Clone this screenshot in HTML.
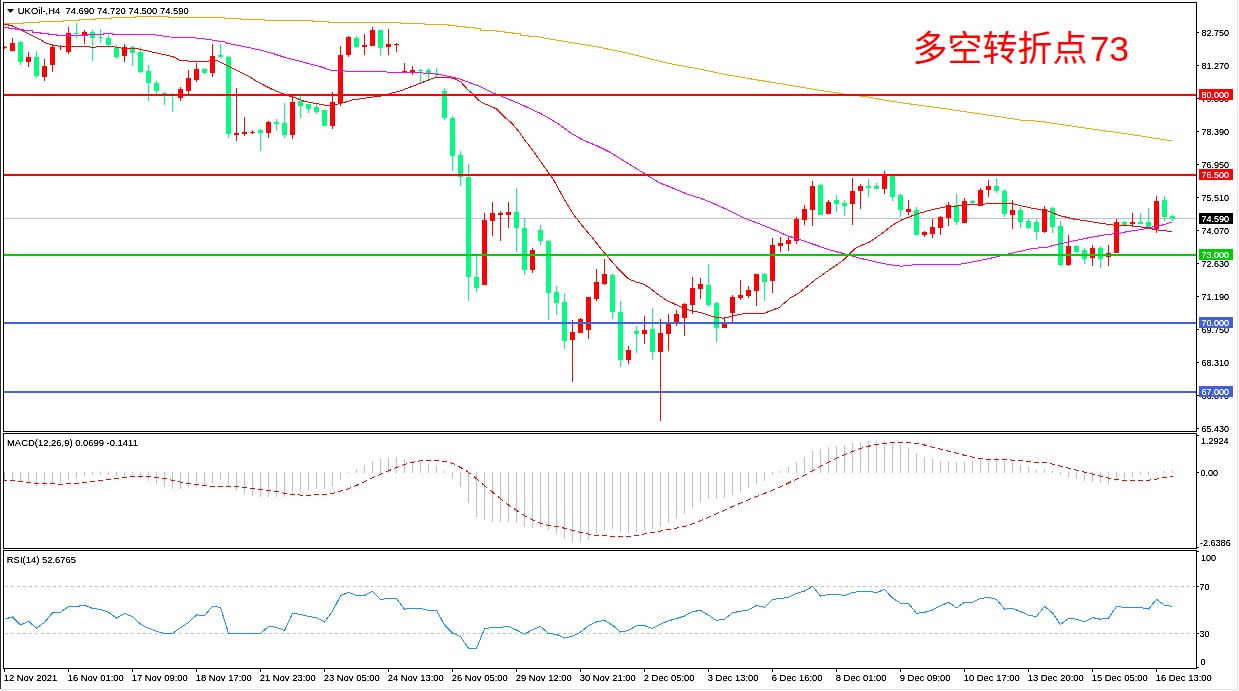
<!DOCTYPE html><html><head><meta charset="utf-8"><title>UKOil H4</title><style>html,body{margin:0;padding:0;background:#fff;overflow:hidden;}svg{display:block;}</style></head><body><svg width="1239" height="691" viewBox="0 0 1239 691" font-family="'Liberation Sans', Arial, sans-serif">
<rect x="0" y="0" width="1239" height="691" fill="#fff"/>
<rect x="0" y="0" width="1" height="689" fill="#2b2b2b"/>
<rect x="1" y="689" width="1237" height="1" fill="#e3e3e3"/>
<rect x="1237" y="0" width="1" height="690" fill="#e3e3e3"/>
<defs><clipPath id="cm"><rect x="4" y="3" width="1192" height="428"/></clipPath><clipPath id="cd"><rect x="4" y="434" width="1192" height="114"/></clipPath><clipPath id="cr"><rect x="4" y="551" width="1192" height="117"/></clipPath><filter id="tc" x="-5%" y="-30%" width="110%" height="160%" color-interpolation-filters="sRGB"><feComponentTransfer><feFuncA type="linear" slope="1.8" intercept="-0.2"/></feComponentTransfer></filter></defs>
<g clip-path="url(#cm)" shape-rendering="crispEdges">
<rect x="4" y="218" width="1192" height="1" fill="#c0c0c0"/>
<rect x="4" y="46" width="1" height="3" fill="#ff0000"/>
<rect x="2" y="47" width="5" height="1" fill="#ff0000"/>
<rect x="12" y="38" width="1" height="13" fill="#ff0000"/>
<rect x="10" y="43" width="5" height="8" fill="#ff0000"/>
<rect x="20" y="41" width="1" height="24" fill="#00ff7f"/>
<rect x="18" y="42" width="5" height="20" fill="#00ff7f"/>
<rect x="28" y="52" width="1" height="15" fill="#ff0000"/>
<rect x="26" y="57" width="5" height="5" fill="#ff0000"/>
<rect x="36" y="51" width="1" height="27" fill="#00ff7f"/>
<rect x="34" y="57" width="5" height="19" fill="#00ff7f"/>
<rect x="44" y="59" width="1" height="22" fill="#ff0000"/>
<rect x="42" y="66" width="5" height="11" fill="#ff0000"/>
<rect x="52" y="46" width="1" height="26" fill="#ff0000"/>
<rect x="50" y="47" width="5" height="18" fill="#ff0000"/>
<rect x="60" y="45" width="1" height="5" fill="#ff0000"/>
<rect x="58" y="46" width="5" height="1" fill="#ff0000"/>
<rect x="68" y="27" width="1" height="27" fill="#ff0000"/>
<rect x="66" y="33" width="5" height="19" fill="#ff0000"/>
<rect x="76" y="23" width="1" height="15" fill="#00ff7f"/>
<rect x="74" y="33" width="5" height="1" fill="#00ff7f"/>
<rect x="84" y="30" width="1" height="14" fill="#ff0000"/>
<rect x="82" y="32" width="5" height="3" fill="#ff0000"/>
<rect x="92" y="30" width="1" height="31" fill="#00ff7f"/>
<rect x="90" y="32" width="5" height="6" fill="#00ff7f"/>
<rect x="100" y="29" width="1" height="14" fill="#00ff7f"/>
<rect x="98" y="37" width="5" height="1" fill="#00ff7f"/>
<rect x="108" y="35" width="1" height="11" fill="#00ff7f"/>
<rect x="106" y="38" width="5" height="7" fill="#00ff7f"/>
<rect x="116" y="45" width="1" height="14" fill="#00ff7f"/>
<rect x="114" y="48" width="5" height="9" fill="#00ff7f"/>
<rect x="124" y="44" width="1" height="18" fill="#ff0000"/>
<rect x="122" y="47" width="5" height="9" fill="#ff0000"/>
<rect x="132" y="46" width="1" height="20" fill="#00ff7f"/>
<rect x="130" y="47" width="5" height="6" fill="#00ff7f"/>
<rect x="140" y="47" width="1" height="26" fill="#00ff7f"/>
<rect x="138" y="52" width="5" height="20" fill="#00ff7f"/>
<rect x="148" y="65" width="1" height="36" fill="#00ff7f"/>
<rect x="146" y="71" width="5" height="12" fill="#00ff7f"/>
<rect x="156" y="81" width="1" height="13" fill="#00ff7f"/>
<rect x="154" y="83" width="5" height="8" fill="#00ff7f"/>
<rect x="164" y="92" width="1" height="13" fill="#00ff7f"/>
<rect x="162" y="93" width="5" height="3" fill="#00ff7f"/>
<rect x="172" y="93" width="1" height="19" fill="#00ff7f"/>
<rect x="170" y="95" width="5" height="1" fill="#00ff7f"/>
<rect x="180" y="87" width="1" height="14" fill="#ff0000"/>
<rect x="178" y="89" width="5" height="9" fill="#ff0000"/>
<rect x="188" y="70" width="1" height="24" fill="#ff0000"/>
<rect x="186" y="78" width="5" height="13" fill="#ff0000"/>
<rect x="196" y="63" width="1" height="19" fill="#ff0000"/>
<rect x="194" y="69" width="5" height="11" fill="#ff0000"/>
<rect x="204" y="68" width="1" height="6" fill="#00ff7f"/>
<rect x="202" y="69" width="5" height="4" fill="#00ff7f"/>
<rect x="212" y="44" width="1" height="33" fill="#ff0000"/>
<rect x="210" y="56" width="5" height="17" fill="#ff0000"/>
<rect x="220" y="44" width="1" height="14" fill="#00ff7f"/>
<rect x="218" y="55" width="5" height="2" fill="#00ff7f"/>
<rect x="228" y="56" width="1" height="82" fill="#00ff7f"/>
<rect x="226" y="57" width="5" height="77" fill="#00ff7f"/>
<rect x="236" y="88" width="1" height="53" fill="#ff0000"/>
<rect x="234" y="133" width="5" height="2" fill="#ff0000"/>
<rect x="244" y="117" width="1" height="19" fill="#ff0000"/>
<rect x="242" y="132" width="5" height="2" fill="#ff0000"/>
<rect x="252" y="130" width="1" height="4" fill="#ff0000"/>
<rect x="250" y="132" width="5" height="1" fill="#ff0000"/>
<rect x="260" y="129" width="1" height="22" fill="#00ff7f"/>
<rect x="258" y="130" width="5" height="3" fill="#00ff7f"/>
<rect x="268" y="121" width="1" height="17" fill="#ff0000"/>
<rect x="266" y="122" width="5" height="11" fill="#ff0000"/>
<rect x="276" y="119" width="1" height="12" fill="#00ff7f"/>
<rect x="274" y="122" width="5" height="2" fill="#00ff7f"/>
<rect x="284" y="103" width="1" height="35" fill="#00ff7f"/>
<rect x="282" y="123" width="5" height="12" fill="#00ff7f"/>
<rect x="292" y="95" width="1" height="44" fill="#ff0000"/>
<rect x="290" y="102" width="5" height="33" fill="#ff0000"/>
<rect x="300" y="96" width="1" height="22" fill="#00ff7f"/>
<rect x="298" y="101" width="5" height="5" fill="#00ff7f"/>
<rect x="308" y="104" width="1" height="9" fill="#00ff7f"/>
<rect x="306" y="104" width="5" height="5" fill="#00ff7f"/>
<rect x="316" y="104" width="1" height="10" fill="#00ff7f"/>
<rect x="314" y="107" width="5" height="5" fill="#00ff7f"/>
<rect x="324" y="110" width="1" height="16" fill="#00ff7f"/>
<rect x="322" y="110" width="5" height="16" fill="#00ff7f"/>
<rect x="332" y="92" width="1" height="37" fill="#ff0000"/>
<rect x="330" y="102" width="5" height="24" fill="#ff0000"/>
<rect x="340" y="46" width="1" height="60" fill="#ff0000"/>
<rect x="338" y="55" width="5" height="48" fill="#ff0000"/>
<rect x="348" y="36" width="1" height="21" fill="#ff0000"/>
<rect x="346" y="37" width="5" height="18" fill="#ff0000"/>
<rect x="356" y="36" width="1" height="12" fill="#00ff7f"/>
<rect x="354" y="38" width="5" height="9" fill="#00ff7f"/>
<rect x="364" y="34" width="1" height="21" fill="#ff0000"/>
<rect x="362" y="45" width="5" height="2" fill="#ff0000"/>
<rect x="372" y="27" width="1" height="19" fill="#ff0000"/>
<rect x="370" y="30" width="5" height="16" fill="#ff0000"/>
<rect x="380" y="30" width="1" height="26" fill="#00ff7f"/>
<rect x="378" y="30" width="5" height="18" fill="#00ff7f"/>
<rect x="388" y="29" width="1" height="26" fill="#ff0000"/>
<rect x="386" y="44" width="5" height="3" fill="#ff0000"/>
<rect x="396" y="43" width="1" height="9" fill="#ff0000"/>
<rect x="394" y="44" width="5" height="1" fill="#ff0000"/>
<rect x="404" y="63" width="1" height="10" fill="#ff0000"/>
<rect x="402" y="71" width="5" height="1" fill="#ff0000"/>
<rect x="412" y="66" width="1" height="9" fill="#ff0000"/>
<rect x="410" y="70" width="5" height="2" fill="#ff0000"/>
<rect x="420" y="69" width="1" height="14" fill="#00ff7f"/>
<rect x="418" y="70" width="5" height="1" fill="#00ff7f"/>
<rect x="428" y="68" width="1" height="13" fill="#00ff7f"/>
<rect x="426" y="70" width="5" height="3" fill="#00ff7f"/>
<rect x="436" y="68" width="1" height="9" fill="#00ff7f"/>
<rect x="434" y="73" width="5" height="1" fill="#00ff7f"/>
<rect x="444" y="88" width="1" height="32" fill="#00ff7f"/>
<rect x="442" y="91" width="5" height="27" fill="#00ff7f"/>
<rect x="452" y="116" width="1" height="55" fill="#00ff7f"/>
<rect x="450" y="118" width="5" height="38" fill="#00ff7f"/>
<rect x="460" y="151" width="1" height="35" fill="#00ff7f"/>
<rect x="458" y="155" width="5" height="22" fill="#00ff7f"/>
<rect x="468" y="164" width="1" height="137" fill="#00ff7f"/>
<rect x="466" y="177" width="5" height="100" fill="#00ff7f"/>
<rect x="476" y="256" width="1" height="36" fill="#00ff7f"/>
<rect x="474" y="277" width="5" height="11" fill="#00ff7f"/>
<rect x="484" y="213" width="1" height="72" fill="#ff0000"/>
<rect x="482" y="220" width="5" height="65" fill="#ff0000"/>
<rect x="492" y="202" width="1" height="34" fill="#ff0000"/>
<rect x="490" y="213" width="5" height="8" fill="#ff0000"/>
<rect x="500" y="211" width="1" height="30" fill="#ff0000"/>
<rect x="498" y="213" width="5" height="2" fill="#ff0000"/>
<rect x="508" y="202" width="1" height="26" fill="#ff0000"/>
<rect x="506" y="212" width="5" height="3" fill="#ff0000"/>
<rect x="516" y="188" width="1" height="64" fill="#00ff7f"/>
<rect x="514" y="212" width="5" height="16" fill="#00ff7f"/>
<rect x="524" y="218" width="1" height="57" fill="#00ff7f"/>
<rect x="522" y="228" width="5" height="42" fill="#00ff7f"/>
<rect x="532" y="248" width="1" height="25" fill="#ff0000"/>
<rect x="530" y="250" width="5" height="20" fill="#ff0000"/>
<rect x="540" y="225" width="1" height="20" fill="#00ff7f"/>
<rect x="538" y="230" width="5" height="11" fill="#00ff7f"/>
<rect x="548" y="240" width="1" height="80" fill="#00ff7f"/>
<rect x="546" y="241" width="5" height="52" fill="#00ff7f"/>
<rect x="556" y="286" width="1" height="29" fill="#00ff7f"/>
<rect x="554" y="292" width="5" height="11" fill="#00ff7f"/>
<rect x="564" y="293" width="1" height="56" fill="#00ff7f"/>
<rect x="562" y="302" width="5" height="39" fill="#00ff7f"/>
<rect x="572" y="320" width="1" height="62" fill="#ff0000"/>
<rect x="570" y="332" width="5" height="8" fill="#ff0000"/>
<rect x="580" y="318" width="1" height="15" fill="#ff0000"/>
<rect x="578" y="319" width="5" height="14" fill="#ff0000"/>
<rect x="588" y="297" width="1" height="42" fill="#ff0000"/>
<rect x="586" y="297" width="5" height="33" fill="#ff0000"/>
<rect x="596" y="269" width="1" height="32" fill="#ff0000"/>
<rect x="594" y="282" width="5" height="17" fill="#ff0000"/>
<rect x="604" y="259" width="1" height="26" fill="#ff0000"/>
<rect x="602" y="274" width="5" height="10" fill="#ff0000"/>
<rect x="612" y="274" width="1" height="45" fill="#00ff7f"/>
<rect x="610" y="275" width="5" height="37" fill="#00ff7f"/>
<rect x="620" y="301" width="1" height="66" fill="#00ff7f"/>
<rect x="618" y="312" width="5" height="48" fill="#00ff7f"/>
<rect x="628" y="346" width="1" height="18" fill="#ff0000"/>
<rect x="626" y="350" width="5" height="10" fill="#ff0000"/>
<rect x="636" y="326" width="1" height="27" fill="#00ff7f"/>
<rect x="634" y="331" width="5" height="3" fill="#00ff7f"/>
<rect x="644" y="316" width="1" height="28" fill="#ff0000"/>
<rect x="642" y="330" width="5" height="4" fill="#ff0000"/>
<rect x="652" y="308" width="1" height="52" fill="#00ff7f"/>
<rect x="650" y="329" width="5" height="23" fill="#00ff7f"/>
<rect x="660" y="319" width="1" height="102" fill="#ff0000"/>
<rect x="658" y="333" width="5" height="19" fill="#ff0000"/>
<rect x="668" y="314" width="1" height="37" fill="#ff0000"/>
<rect x="666" y="324" width="5" height="10" fill="#ff0000"/>
<rect x="676" y="310" width="1" height="16" fill="#ff0000"/>
<rect x="674" y="314" width="5" height="9" fill="#ff0000"/>
<rect x="684" y="303" width="1" height="33" fill="#ff0000"/>
<rect x="682" y="304" width="5" height="14" fill="#ff0000"/>
<rect x="692" y="277" width="1" height="37" fill="#ff0000"/>
<rect x="690" y="288" width="5" height="17" fill="#ff0000"/>
<rect x="700" y="278" width="1" height="21" fill="#ff0000"/>
<rect x="698" y="284" width="5" height="5" fill="#ff0000"/>
<rect x="708" y="264" width="1" height="43" fill="#00ff7f"/>
<rect x="706" y="285" width="5" height="20" fill="#00ff7f"/>
<rect x="716" y="302" width="1" height="40" fill="#00ff7f"/>
<rect x="714" y="303" width="5" height="25" fill="#00ff7f"/>
<rect x="724" y="318" width="1" height="10" fill="#ff0000"/>
<rect x="722" y="323" width="5" height="5" fill="#ff0000"/>
<rect x="732" y="295" width="1" height="27" fill="#ff0000"/>
<rect x="730" y="297" width="5" height="16" fill="#ff0000"/>
<rect x="740" y="280" width="1" height="20" fill="#ff0000"/>
<rect x="738" y="295" width="5" height="3" fill="#ff0000"/>
<rect x="748" y="286" width="1" height="12" fill="#ff0000"/>
<rect x="746" y="290" width="5" height="6" fill="#ff0000"/>
<rect x="756" y="274" width="1" height="32" fill="#ff0000"/>
<rect x="754" y="274" width="5" height="17" fill="#ff0000"/>
<rect x="764" y="273" width="1" height="28" fill="#00ff7f"/>
<rect x="762" y="274" width="5" height="8" fill="#00ff7f"/>
<rect x="772" y="238" width="1" height="55" fill="#ff0000"/>
<rect x="770" y="245" width="5" height="36" fill="#ff0000"/>
<rect x="780" y="237" width="1" height="15" fill="#ff0000"/>
<rect x="778" y="243" width="5" height="3" fill="#ff0000"/>
<rect x="788" y="237" width="1" height="14" fill="#ff0000"/>
<rect x="786" y="240" width="5" height="4" fill="#ff0000"/>
<rect x="796" y="217" width="1" height="27" fill="#ff0000"/>
<rect x="794" y="219" width="5" height="22" fill="#ff0000"/>
<rect x="804" y="205" width="1" height="20" fill="#ff0000"/>
<rect x="802" y="209" width="5" height="11" fill="#ff0000"/>
<rect x="812" y="181" width="1" height="45" fill="#ff0000"/>
<rect x="810" y="186" width="5" height="24" fill="#ff0000"/>
<rect x="820" y="184" width="1" height="31" fill="#00ff7f"/>
<rect x="818" y="185" width="5" height="30" fill="#00ff7f"/>
<rect x="828" y="200" width="1" height="14" fill="#ff0000"/>
<rect x="826" y="202" width="5" height="12" fill="#ff0000"/>
<rect x="836" y="195" width="1" height="17" fill="#00ff7f"/>
<rect x="834" y="200" width="5" height="4" fill="#00ff7f"/>
<rect x="844" y="200" width="1" height="16" fill="#00ff7f"/>
<rect x="842" y="203" width="5" height="3" fill="#00ff7f"/>
<rect x="852" y="178" width="1" height="47" fill="#ff0000"/>
<rect x="850" y="191" width="5" height="13" fill="#ff0000"/>
<rect x="860" y="184" width="1" height="25" fill="#ff0000"/>
<rect x="858" y="186" width="5" height="5" fill="#ff0000"/>
<rect x="868" y="179" width="1" height="18" fill="#00ff7f"/>
<rect x="866" y="186" width="5" height="2" fill="#00ff7f"/>
<rect x="876" y="183" width="1" height="6" fill="#00ff7f"/>
<rect x="874" y="186" width="5" height="3" fill="#00ff7f"/>
<rect x="884" y="171" width="1" height="23" fill="#ff0000"/>
<rect x="882" y="174" width="5" height="15" fill="#ff0000"/>
<rect x="892" y="176" width="1" height="25" fill="#00ff7f"/>
<rect x="890" y="176" width="5" height="21" fill="#00ff7f"/>
<rect x="900" y="194" width="1" height="23" fill="#00ff7f"/>
<rect x="898" y="195" width="5" height="15" fill="#00ff7f"/>
<rect x="908" y="200" width="1" height="15" fill="#ff0000"/>
<rect x="906" y="209" width="5" height="3" fill="#ff0000"/>
<rect x="916" y="207" width="1" height="28" fill="#00ff7f"/>
<rect x="914" y="210" width="5" height="25" fill="#00ff7f"/>
<rect x="924" y="231" width="1" height="6" fill="#ff0000"/>
<rect x="922" y="232" width="5" height="3" fill="#ff0000"/>
<rect x="932" y="219" width="1" height="19" fill="#ff0000"/>
<rect x="930" y="227" width="5" height="7" fill="#ff0000"/>
<rect x="940" y="216" width="1" height="19" fill="#ff0000"/>
<rect x="938" y="217" width="5" height="11" fill="#ff0000"/>
<rect x="948" y="202" width="1" height="24" fill="#ff0000"/>
<rect x="946" y="205" width="5" height="13" fill="#ff0000"/>
<rect x="956" y="194" width="1" height="31" fill="#00ff7f"/>
<rect x="954" y="205" width="5" height="17" fill="#00ff7f"/>
<rect x="964" y="198" width="1" height="25" fill="#ff0000"/>
<rect x="962" y="201" width="5" height="22" fill="#ff0000"/>
<rect x="972" y="200" width="1" height="4" fill="#00ff7f"/>
<rect x="970" y="201" width="5" height="2" fill="#00ff7f"/>
<rect x="980" y="188" width="1" height="18" fill="#ff0000"/>
<rect x="978" y="190" width="5" height="16" fill="#ff0000"/>
<rect x="988" y="180" width="1" height="17" fill="#ff0000"/>
<rect x="986" y="186" width="5" height="4" fill="#ff0000"/>
<rect x="996" y="178" width="1" height="15" fill="#00ff7f"/>
<rect x="994" y="186" width="5" height="5" fill="#00ff7f"/>
<rect x="1004" y="189" width="1" height="28" fill="#00ff7f"/>
<rect x="1002" y="191" width="5" height="23" fill="#00ff7f"/>
<rect x="1012" y="200" width="1" height="29" fill="#ff0000"/>
<rect x="1010" y="210" width="5" height="5" fill="#ff0000"/>
<rect x="1020" y="207" width="1" height="21" fill="#00ff7f"/>
<rect x="1018" y="210" width="5" height="12" fill="#00ff7f"/>
<rect x="1028" y="219" width="1" height="10" fill="#00ff7f"/>
<rect x="1026" y="221" width="5" height="7" fill="#00ff7f"/>
<rect x="1036" y="219" width="1" height="21" fill="#00ff7f"/>
<rect x="1034" y="222" width="5" height="10" fill="#00ff7f"/>
<rect x="1044" y="206" width="1" height="27" fill="#ff0000"/>
<rect x="1042" y="209" width="5" height="23" fill="#ff0000"/>
<rect x="1052" y="207" width="1" height="26" fill="#00ff7f"/>
<rect x="1050" y="208" width="5" height="19" fill="#00ff7f"/>
<rect x="1060" y="221" width="1" height="45" fill="#00ff7f"/>
<rect x="1058" y="226" width="5" height="39" fill="#00ff7f"/>
<rect x="1068" y="235" width="1" height="31" fill="#ff0000"/>
<rect x="1066" y="246" width="5" height="19" fill="#ff0000"/>
<rect x="1076" y="245" width="1" height="8" fill="#00ff7f"/>
<rect x="1074" y="246" width="5" height="6" fill="#00ff7f"/>
<rect x="1084" y="248" width="1" height="16" fill="#00ff7f"/>
<rect x="1082" y="250" width="5" height="9" fill="#00ff7f"/>
<rect x="1092" y="245" width="1" height="21" fill="#ff0000"/>
<rect x="1090" y="248" width="5" height="10" fill="#ff0000"/>
<rect x="1100" y="246" width="1" height="22" fill="#00ff7f"/>
<rect x="1098" y="248" width="5" height="11" fill="#00ff7f"/>
<rect x="1108" y="245" width="1" height="21" fill="#ff0000"/>
<rect x="1106" y="253" width="5" height="4" fill="#ff0000"/>
<rect x="1116" y="219" width="1" height="34" fill="#ff0000"/>
<rect x="1114" y="222" width="5" height="31" fill="#ff0000"/>
<rect x="1124" y="221" width="1" height="6" fill="#00ff7f"/>
<rect x="1122" y="222" width="5" height="3" fill="#00ff7f"/>
<rect x="1132" y="213" width="1" height="14" fill="#ff0000"/>
<rect x="1130" y="222" width="5" height="2" fill="#ff0000"/>
<rect x="1140" y="213" width="1" height="11" fill="#00ff7f"/>
<rect x="1138" y="222" width="5" height="2" fill="#00ff7f"/>
<rect x="1148" y="208" width="1" height="20" fill="#00ff7f"/>
<rect x="1146" y="222" width="5" height="6" fill="#00ff7f"/>
<rect x="1156" y="196" width="1" height="37" fill="#ff0000"/>
<rect x="1154" y="201" width="5" height="28" fill="#ff0000"/>
<rect x="1164" y="196" width="1" height="25" fill="#00ff7f"/>
<rect x="1162" y="200" width="5" height="17" fill="#00ff7f"/>
<rect x="1172" y="215" width="1" height="6" fill="#00ff7f"/>
<rect x="1170" y="216" width="5" height="3" fill="#00ff7f"/>
</g>
<g clip-path="url(#cm)" shape-rendering="crispEdges">
<polyline points="4,23.5 23,23.5 24,22.5 39,22.5 40,21.5 63,21.5 64,20.5 79,20.5 80,19.5 95,19.5 96,18.5 111,18.5 112,17.5 135,17.5 136,16.5 168,16.5 169,17.5 224,17.5 225,18.5 240,18.5 241,19.5 264,19.5 265,20.5 312,20.5 313,21.5 328,21.5 329,22.5 400,22.5 401,23.5 424,23.5 425,24.5 448,24.5 449,25.5 456,25.5 457,26.5 465,26.5 466,27.5 474,27.5 475,28.5 480,28.5 481,30.5 496,30.5 497,31.5 504,31.5 505,32.5 512,32.5 513,33.5 520,33.5 521,35.5 528,35.5 529,36.5 536,36.5 545.5,38.3 566,41.6 597,46.8 628,53.3 649,58.4 669.5,63.6 698,68.8 729,75.2 752,79.1 775.5,83 798.7,86.8 822,90.7 840,93.3 847,94.9 864,96.3 886.5,100.5 906,103.4 937,107.6 965.6,111.8 994,116 1022,120.3 1039,121.2 1061.6,124.5 1090,128.8 1121,133 1149,137.3 1172,141" fill="none" stroke="#ffa500" stroke-width="1"/>
<polyline points="4,27.5 8,27.5 9,28.5 15,28.5 16,29.5 23,29.5 24,30.5 32,30.5 33,32.5 40,32.5 41,33.5 48,33.5 49,34.5 56,34.5 57,35.5 87,35.5 88,34.5 103,34.5 104,33.5 112,33.5 113,34.5 139,34.5 152,34.5 160,35.6 170,37 192,37.5 200,38.5 209,39.5 217,40.9 224,41.5 227,43.3 237.5,45.3 251,48 263.4,50.9 273.6,53.7 283.8,57.1 297.3,60.5 309.8,63.9 320,66.5 331.5,70.4 353,71.4 392,72.1 410,72.5 430,73.3 440,74.7 450,76.5 460,79.1 479.5,86.3 492.6,92.8 504.3,97.4 521.2,104.5 540.8,113.6 557.7,123.4 572,133.8 585,141 598,146.2 610,152.2 625.6,161.9 642.6,172.4 659.5,182.8 672.5,188 688,194.5 701,198.4 716.8,205 731,211.4 744.2,218 752,221 770.8,228.4 787.8,235.9 797,238.7 814,244.5 832,250.6 843,253.4 859,257.9 877,262.3 894.6,265.5 901.7,266.2 912,265 926.6,264.4 958.5,264.4 971,262.3 988.7,258.7 1003,255.2 1019,251.6 1033,248.4 1040,247.8 1047,247.3 1054,245.3 1060.8,243.6 1069,241.9 1078,240.1 1087.5,238 1098,236.1 1108,234.4 1119,233.4 1126,231.9 1135,230.4 1145.6,228.8 1151,227.2 1158,226.1 1165,224.4 1172,222" fill="none" stroke="#ff00ff" stroke-width="1"/>
<polyline points="4,24 12,25.8 19.7,29.3 29,33.9 38,38.5 46.3,43.1 53.2,45.2 60,46.4 72,46.4 88,46.4 92,47.5 100,46.4 113,46.4 117,47.5 124,48.4 136,48.4 145,50.4 165,54.8 175,57.4 180,60.5 195,61.4 208,61.4 212,60 216,60 219,61.4 224,63.9 230.7,67.3 239.7,71.8 248.8,76.3 257.7,82 271.5,89 285,94.6 297.6,98.6 304,101.2 310,102.5 316,103.4 321,104.5 326,105.4 332,105.4 336.5,104.5 344,102.5 348,101.2 352,100 364.8,98.2 383.6,95.6 392,93 400,91 420,83.4 435.4,77.3 445.8,77.3 454.5,78.5 460.6,81.7 468.4,90.3 472.4,93.5 477,98.7 482,102.6 491.3,106.5 496.5,109 504.3,116.9 512,123.4 518.6,131.2 525,140.4 533,150.8 539.5,160 553.7,180 563.2,197.4 573.6,214.7 583.2,226.9 592,237.3 602,250 608,257 617,267.4 628,278.6 636,282 643,283.9 650,288.2 658.6,294.8 666,300 681,307 691.6,311 700,312.4 709,315.3 716,317.4 723.4,318.1 730.6,316.7 739.3,314.5 748,313 765,313 772,310.3 779,307.7 785,302.5 790,298.2 799,293 816,279.2 820,276.5 832,268 843,260.5 855.5,248.1 869.7,241.9 880.7,234.4 892.8,225 902.7,219.4 916.8,214 930.7,210 944.6,207 956,206.1 963,205.3 968,204.1 977,204.1 981,205.3 986.5,203.6 1013,203.6 1015.5,204.5 1019,205.3 1026,206.8 1033,208.4 1040,209.6 1049,211.2 1059.7,215.8 1065.5,217 1074.7,219.3 1084,220.5 1094.4,222.2 1104.8,223.9 1114,225.1 1120,225.4 1129,225.5 1136,226.4 1145.6,227.6 1152.5,229 1160.6,230.4 1172,231.5" fill="none" stroke="#ff0000" stroke-width="1"/>
</g>
<g shape-rendering="crispEdges">
<rect x="4" y="94" width="1192" height="2" fill="#ff0000"/>
<rect x="4" y="174" width="1192" height="2" fill="#ff0000"/>
<rect x="4" y="254" width="1192" height="2" fill="#00d000"/>
<rect x="4" y="322" width="1192" height="2" fill="#4060e0"/>
<rect x="4" y="391" width="1192" height="2" fill="#4060e0"/>
</g>
<path d="M7,9 L14,9 L10.5,13 Z" fill="#000"/>
<text transform="matrix(0.955 0 0 1 17.8 14)" font-size="9.9" fill="#000" filter="url(#tc)">UKOil-,H4&#160;&#160;74.690 74.720 74.500 74.590</text>
<text x="912.5" y="60.5" font-size="35" fill="#ff0000" font-family="'Liberation Sans', 'Noto Sans CJK SC', sans-serif">多空转折点<tspan x="1090">73</tspan></text>
<g shape-rendering="crispEdges" fill="none" stroke="#000" stroke-width="1">
<rect x="3.5" y="2.5" width="1193" height="429"/>
<rect x="3.5" y="433.5" width="1193" height="115"/>
<rect x="3.5" y="550.5" width="1193" height="118"/>
</g>
<g shape-rendering="crispEdges">
<rect x="1197" y="32" width="2" height="1" fill="#000"/>
<rect x="1197" y="65" width="2" height="1" fill="#000"/>
<rect x="1197" y="98" width="2" height="1" fill="#000"/>
<rect x="1197" y="131" width="2" height="1" fill="#000"/>
<rect x="1197" y="164" width="2" height="1" fill="#000"/>
<rect x="1197" y="197" width="2" height="1" fill="#000"/>
<rect x="1197" y="230" width="2" height="1" fill="#000"/>
<rect x="1197" y="263" width="2" height="1" fill="#000"/>
<rect x="1197" y="296" width="2" height="1" fill="#000"/>
<rect x="1197" y="329" width="2" height="1" fill="#000"/>
<rect x="1197" y="362" width="2" height="1" fill="#000"/>
<rect x="1197" y="395" width="2" height="1" fill="#000"/>
<rect x="1197" y="428" width="2" height="1" fill="#000"/>
</g>
<text transform="matrix(0.915 0 0 1 1201.5 36)" font-size="9.9" fill="#000" filter="url(#tc)">82.750</text>
<text transform="matrix(0.915 0 0 1 1201.5 69)" font-size="9.9" fill="#000" filter="url(#tc)">81.270</text>
<text transform="matrix(0.915 0 0 1 1201.5 102)" font-size="9.9" fill="#000" filter="url(#tc)">79.830</text>
<text transform="matrix(0.915 0 0 1 1201.5 135)" font-size="9.9" fill="#000" filter="url(#tc)">78.390</text>
<text transform="matrix(0.915 0 0 1 1201.5 168)" font-size="9.9" fill="#000" filter="url(#tc)">76.950</text>
<text transform="matrix(0.915 0 0 1 1201.5 201)" font-size="9.9" fill="#000" filter="url(#tc)">75.510</text>
<text transform="matrix(0.915 0 0 1 1201.5 234)" font-size="9.9" fill="#000" filter="url(#tc)">74.070</text>
<text transform="matrix(0.915 0 0 1 1201.5 267)" font-size="9.9" fill="#000" filter="url(#tc)">72.630</text>
<text transform="matrix(0.915 0 0 1 1201.5 300)" font-size="9.9" fill="#000" filter="url(#tc)">71.190</text>
<text transform="matrix(0.915 0 0 1 1201.5 333)" font-size="9.9" fill="#000" filter="url(#tc)">69.750</text>
<text transform="matrix(0.915 0 0 1 1201.5 366)" font-size="9.9" fill="#000" filter="url(#tc)">68.310</text>
<text transform="matrix(0.915 0 0 1 1201.5 399)" font-size="9.9" fill="#000" filter="url(#tc)">66.870</text>
<text transform="matrix(0.915 0 0 1 1201.5 432)" font-size="9.9" fill="#000" filter="url(#tc)">65.430</text>
<rect x="1199" y="89" width="34" height="11" fill="#ff0000" shape-rendering="crispEdges"/>
<text transform="matrix(0.915 0 0 1 1201.5 98)" font-size="9.9" fill="#fff" filter="url(#tc)">80.000</text>
<rect x="1199" y="169" width="34" height="11" fill="#ff0000" shape-rendering="crispEdges"/>
<text transform="matrix(0.915 0 0 1 1201.5 178)" font-size="9.9" fill="#fff" filter="url(#tc)">76.500</text>
<rect x="1199" y="213" width="34" height="11" fill="#000" shape-rendering="crispEdges"/>
<text transform="matrix(0.915 0 0 1 1201.5 222)" font-size="9.9" fill="#fff" filter="url(#tc)">74.590</text>
<rect x="1199" y="249" width="34" height="11" fill="#00d000" shape-rendering="crispEdges"/>
<text transform="matrix(0.915 0 0 1 1201.5 258)" font-size="9.9" fill="#fff" filter="url(#tc)">73.000</text>
<rect x="1199" y="317" width="34" height="11" fill="#4060e0" shape-rendering="crispEdges"/>
<text transform="matrix(0.915 0 0 1 1201.5 326)" font-size="9.9" fill="#fff" filter="url(#tc)">70.000</text>
<rect x="1199" y="386" width="34" height="11" fill="#4060e0" shape-rendering="crispEdges"/>
<text transform="matrix(0.915 0 0 1 1201.5 395)" font-size="9.9" fill="#fff" filter="url(#tc)">67.000</text>
<text transform="matrix(0.955 0 0 1 7 446)" font-size="9.9" fill="#000" filter="url(#tc)">MACD(12,26,9) 0.0699 -0.1411</text>
<g clip-path="url(#cd)" shape-rendering="crispEdges">
<rect x="4" y="472" width="1" height="8" fill="#c0c0c0"/>
<rect x="12" y="472" width="1" height="9" fill="#c0c0c0"/>
<rect x="20" y="472" width="1" height="10" fill="#c0c0c0"/>
<rect x="28" y="472" width="1" height="11" fill="#c0c0c0"/>
<rect x="36" y="472" width="1" height="14" fill="#c0c0c0"/>
<rect x="44" y="472" width="1" height="14" fill="#c0c0c0"/>
<rect x="52" y="472" width="1" height="12" fill="#c0c0c0"/>
<rect x="60" y="472" width="1" height="11" fill="#c0c0c0"/>
<rect x="68" y="472" width="1" height="8" fill="#c0c0c0"/>
<rect x="76" y="472" width="1" height="6" fill="#c0c0c0"/>
<rect x="84" y="472" width="1" height="4" fill="#c0c0c0"/>
<rect x="92" y="472" width="1" height="3" fill="#c0c0c0"/>
<rect x="100" y="472" width="1" height="3" fill="#c0c0c0"/>
<rect x="108" y="472" width="1" height="3" fill="#c0c0c0"/>
<rect x="116" y="472" width="1" height="4" fill="#c0c0c0"/>
<rect x="124" y="472" width="1" height="4" fill="#c0c0c0"/>
<rect x="132" y="472" width="1" height="4" fill="#c0c0c0"/>
<rect x="140" y="472" width="1" height="6" fill="#c0c0c0"/>
<rect x="148" y="472" width="1" height="9" fill="#c0c0c0"/>
<rect x="156" y="472" width="1" height="12" fill="#c0c0c0"/>
<rect x="164" y="472" width="1" height="15" fill="#c0c0c0"/>
<rect x="172" y="472" width="1" height="17" fill="#c0c0c0"/>
<rect x="180" y="472" width="1" height="17" fill="#c0c0c0"/>
<rect x="188" y="472" width="1" height="16" fill="#c0c0c0"/>
<rect x="196" y="472" width="1" height="15" fill="#c0c0c0"/>
<rect x="204" y="472" width="1" height="13" fill="#c0c0c0"/>
<rect x="212" y="472" width="1" height="11" fill="#c0c0c0"/>
<rect x="220" y="472" width="1" height="8" fill="#c0c0c0"/>
<rect x="228" y="472" width="1" height="15" fill="#c0c0c0"/>
<rect x="236" y="472" width="1" height="19" fill="#c0c0c0"/>
<rect x="244" y="472" width="1" height="22" fill="#c0c0c0"/>
<rect x="252" y="472" width="1" height="24" fill="#c0c0c0"/>
<rect x="260" y="472" width="1" height="25" fill="#c0c0c0"/>
<rect x="268" y="472" width="1" height="25" fill="#c0c0c0"/>
<rect x="276" y="472" width="1" height="25" fill="#c0c0c0"/>
<rect x="284" y="472" width="1" height="25" fill="#c0c0c0"/>
<rect x="292" y="472" width="1" height="23" fill="#c0c0c0"/>
<rect x="300" y="472" width="1" height="20" fill="#c0c0c0"/>
<rect x="308" y="472" width="1" height="18" fill="#c0c0c0"/>
<rect x="316" y="472" width="1" height="17" fill="#c0c0c0"/>
<rect x="324" y="472" width="1" height="17" fill="#c0c0c0"/>
<rect x="332" y="472" width="1" height="15" fill="#c0c0c0"/>
<rect x="340" y="472" width="1" height="8" fill="#c0c0c0"/>
<rect x="348" y="472" width="1" height="1" fill="#c0c0c0"/>
<rect x="356" y="469" width="1" height="4" fill="#c0c0c0"/>
<rect x="364" y="465" width="1" height="8" fill="#c0c0c0"/>
<rect x="372" y="461" width="1" height="12" fill="#c0c0c0"/>
<rect x="380" y="459" width="1" height="14" fill="#c0c0c0"/>
<rect x="388" y="458" width="1" height="15" fill="#c0c0c0"/>
<rect x="396" y="457" width="1" height="16" fill="#c0c0c0"/>
<rect x="404" y="459" width="1" height="14" fill="#c0c0c0"/>
<rect x="412" y="461" width="1" height="12" fill="#c0c0c0"/>
<rect x="420" y="463" width="1" height="10" fill="#c0c0c0"/>
<rect x="428" y="464" width="1" height="9" fill="#c0c0c0"/>
<rect x="436" y="466" width="1" height="7" fill="#c0c0c0"/>
<rect x="444" y="471" width="1" height="2" fill="#c0c0c0"/>
<rect x="452" y="472" width="1" height="6" fill="#c0c0c0"/>
<rect x="460" y="472" width="1" height="15" fill="#c0c0c0"/>
<rect x="468" y="472" width="1" height="31" fill="#c0c0c0"/>
<rect x="476" y="472" width="1" height="45" fill="#c0c0c0"/>
<rect x="484" y="472" width="1" height="48" fill="#c0c0c0"/>
<rect x="492" y="472" width="1" height="50" fill="#c0c0c0"/>
<rect x="500" y="472" width="1" height="50" fill="#c0c0c0"/>
<rect x="508" y="472" width="1" height="50" fill="#c0c0c0"/>
<rect x="516" y="472" width="1" height="51" fill="#c0c0c0"/>
<rect x="524" y="472" width="1" height="55" fill="#c0c0c0"/>
<rect x="532" y="472" width="1" height="56" fill="#c0c0c0"/>
<rect x="540" y="472" width="1" height="55" fill="#c0c0c0"/>
<rect x="548" y="472" width="1" height="58" fill="#c0c0c0"/>
<rect x="556" y="472" width="1" height="62" fill="#c0c0c0"/>
<rect x="564" y="472" width="1" height="67" fill="#c0c0c0"/>
<rect x="572" y="472" width="1" height="70" fill="#c0c0c0"/>
<rect x="580" y="472" width="1" height="70" fill="#c0c0c0"/>
<rect x="588" y="472" width="1" height="68" fill="#c0c0c0"/>
<rect x="596" y="472" width="1" height="62" fill="#c0c0c0"/>
<rect x="604" y="472" width="1" height="58" fill="#c0c0c0"/>
<rect x="612" y="472" width="1" height="57" fill="#c0c0c0"/>
<rect x="620" y="472" width="1" height="60" fill="#c0c0c0"/>
<rect x="628" y="472" width="1" height="61" fill="#c0c0c0"/>
<rect x="636" y="472" width="1" height="60" fill="#c0c0c0"/>
<rect x="644" y="472" width="1" height="58" fill="#c0c0c0"/>
<rect x="652" y="472" width="1" height="57" fill="#c0c0c0"/>
<rect x="660" y="472" width="1" height="55" fill="#c0c0c0"/>
<rect x="668" y="472" width="1" height="51" fill="#c0c0c0"/>
<rect x="676" y="472" width="1" height="46" fill="#c0c0c0"/>
<rect x="684" y="472" width="1" height="42" fill="#c0c0c0"/>
<rect x="692" y="472" width="1" height="36" fill="#c0c0c0"/>
<rect x="700" y="472" width="1" height="30" fill="#c0c0c0"/>
<rect x="708" y="472" width="1" height="27" fill="#c0c0c0"/>
<rect x="716" y="472" width="1" height="27" fill="#c0c0c0"/>
<rect x="724" y="472" width="1" height="26" fill="#c0c0c0"/>
<rect x="732" y="472" width="1" height="23" fill="#c0c0c0"/>
<rect x="740" y="472" width="1" height="20" fill="#c0c0c0"/>
<rect x="748" y="472" width="1" height="16" fill="#c0c0c0"/>
<rect x="756" y="472" width="1" height="12" fill="#c0c0c0"/>
<rect x="764" y="472" width="1" height="9" fill="#c0c0c0"/>
<rect x="772" y="472" width="1" height="3" fill="#c0c0c0"/>
<rect x="780" y="471" width="1" height="2" fill="#c0c0c0"/>
<rect x="788" y="467" width="1" height="6" fill="#c0c0c0"/>
<rect x="796" y="462" width="1" height="11" fill="#c0c0c0"/>
<rect x="804" y="457" width="1" height="16" fill="#c0c0c0"/>
<rect x="812" y="451" width="1" height="22" fill="#c0c0c0"/>
<rect x="820" y="449" width="1" height="24" fill="#c0c0c0"/>
<rect x="828" y="447" width="1" height="26" fill="#c0c0c0"/>
<rect x="836" y="446" width="1" height="27" fill="#c0c0c0"/>
<rect x="844" y="445" width="1" height="28" fill="#c0c0c0"/>
<rect x="852" y="443" width="1" height="30" fill="#c0c0c0"/>
<rect x="860" y="442" width="1" height="31" fill="#c0c0c0"/>
<rect x="868" y="441" width="1" height="32" fill="#c0c0c0"/>
<rect x="876" y="441" width="1" height="32" fill="#c0c0c0"/>
<rect x="884" y="441" width="1" height="32" fill="#c0c0c0"/>
<rect x="892" y="443" width="1" height="30" fill="#c0c0c0"/>
<rect x="900" y="445" width="1" height="28" fill="#c0c0c0"/>
<rect x="908" y="448" width="1" height="25" fill="#c0c0c0"/>
<rect x="916" y="453" width="1" height="20" fill="#c0c0c0"/>
<rect x="924" y="457" width="1" height="16" fill="#c0c0c0"/>
<rect x="932" y="459" width="1" height="14" fill="#c0c0c0"/>
<rect x="940" y="461" width="1" height="12" fill="#c0c0c0"/>
<rect x="948" y="461" width="1" height="12" fill="#c0c0c0"/>
<rect x="956" y="462" width="1" height="11" fill="#c0c0c0"/>
<rect x="964" y="462" width="1" height="11" fill="#c0c0c0"/>
<rect x="972" y="461" width="1" height="12" fill="#c0c0c0"/>
<rect x="980" y="460" width="1" height="13" fill="#c0c0c0"/>
<rect x="988" y="459" width="1" height="14" fill="#c0c0c0"/>
<rect x="996" y="458" width="1" height="15" fill="#c0c0c0"/>
<rect x="1004" y="461" width="1" height="12" fill="#c0c0c0"/>
<rect x="1012" y="462" width="1" height="11" fill="#c0c0c0"/>
<rect x="1020" y="465" width="1" height="8" fill="#c0c0c0"/>
<rect x="1028" y="467" width="1" height="6" fill="#c0c0c0"/>
<rect x="1036" y="470" width="1" height="3" fill="#c0c0c0"/>
<rect x="1044" y="469" width="1" height="4" fill="#c0c0c0"/>
<rect x="1052" y="471" width="1" height="2" fill="#c0c0c0"/>
<rect x="1060" y="472" width="1" height="3" fill="#c0c0c0"/>
<rect x="1068" y="472" width="1" height="5" fill="#c0c0c0"/>
<rect x="1076" y="472" width="1" height="7" fill="#c0c0c0"/>
<rect x="1084" y="472" width="1" height="9" fill="#c0c0c0"/>
<rect x="1092" y="472" width="1" height="10" fill="#c0c0c0"/>
<rect x="1100" y="472" width="1" height="11" fill="#c0c0c0"/>
<rect x="1108" y="472" width="1" height="12" fill="#c0c0c0"/>
<rect x="1116" y="472" width="1" height="9" fill="#c0c0c0"/>
<rect x="1124" y="472" width="1" height="7" fill="#c0c0c0"/>
<rect x="1132" y="472" width="1" height="5" fill="#c0c0c0"/>
<rect x="1140" y="472" width="1" height="3" fill="#c0c0c0"/>
<rect x="1148" y="472" width="1" height="3" fill="#c0c0c0"/>
<rect x="1156" y="472" width="1" height="1" fill="#c0c0c0"/>
<rect x="1164" y="471" width="1" height="2" fill="#c0c0c0"/>
<rect x="1172" y="471" width="1" height="2" fill="#c0c0c0"/>
</g>
<g clip-path="url(#cd)" shape-rendering="crispEdges">
<path d="M2,480.34L7,480.46M10,480.54L15,480.85M18,481.15L23,481.68M26,482.02L31,482.61M34,482.99L39,483.39M42,483.51L47,483.60M50,483.60L55,483.85M58,484.15L63,484.15M66,483.85L71,483.60M74,483.60L79,483.29M82,482.91L87,482.23M90,481.77L95,481.12M98,480.78L103,480.19M106,479.81L111,479.16M114,478.74L119,478.09M122,477.71L127,477.12M130,476.78L135,476.50M138,476.50L143,476.50M146,476.50L151,476.78M154,477.12L159,477.71M162,478.09L167,479.02M170,479.77L175,480.99M178,481.71L183,482.61M186,482.99L191,483.64M194,484.06L199,484.68M202,485.02L207,485.64M210,486.06L215,486.40M218,486.40L223,486.40M226,486.40L231,486.40M234,486.40L239,486.74M242,487.16L247,487.78M250,488.12L255,488.71M258,489.09L263,489.71M266,490.09L271,490.68M274,491.02L279,491.96M282,492.74L287,493.68M290,494.02L295,494.58M298,494.92L303,495.20M306,495.20L311,495.04M314,494.86L319,494.67M322,494.63L327,494.23M330,493.77L335,492.74M338,491.96L343,490.52M346,489.58L351,487.77M354,486.53L359,484.31M362,482.89L367,480.48M370,479.02L375,476.71M378,475.39L383,473.24M386,471.96L391,469.81M394,468.49L399,466.49M402,465.41L407,463.81M410,462.99L415,461.77M418,461.13L423,460.51M426,460.39L431,460.30M434,460.30L439,460.64M442,461.06L447,461.96M450,462.64L455,464.51M458,466.09L463,468.90M466,470.70L471,474.23M474,476.67L479,480.86M482,483.44L487,487.63M490,490.07L495,494.13M498,496.57L503,500.66M506,503.14L511,506.82M514,508.77L519,512.02M522,513.98L527,517.01M530,518.69L535,521.13M538,522.37L543,524.02M546,524.77L551,525.71M554,526.09L559,526.96M562,527.64L567,528.86M570,529.64L575,530.99M578,531.81L583,533.03M586,533.67L591,534.61M594,535.09L599,535.50M602,535.50L607,535.78M610,536.12L615,536.40M618,536.40L623,536.40M626,536.40L631,536.12M634,535.78L639,534.97M642,534.33L647,533.39M650,532.91L655,532.09M658,531.61L663,530.67M666,530.03L671,529.09M674,528.61L679,527.64M682,526.96L687,525.68M690,524.82L695,523.07M698,521.83L703,519.71M706,518.39L711,516.14M714,514.76L719,512.60M722,511.40L727,509.18M730,507.72L735,505.47M738,504.23L743,502.07M746,500.73L751,498.63M754,497.47L759,495.53M762,494.37L767,492.46M770,491.34L775,489.31M778,487.99L783,485.68M786,484.22L791,481.81M794,480.39L799,477.98M802,476.52L807,473.89M810,472.21L815,469.36M818,467.64L823,465.01M826,463.59L831,461.06M834,459.44L839,457.01M842,455.69L847,453.60M850,452.40L855,450.49M858,449.41L863,447.78M866,446.92L871,445.61M874,444.89L879,444.02M882,443.68L887,443.15M890,442.85L895,442.51M898,442.39L903,442.30M906,442.30L911,442.64M914,443.06L919,443.87M922,444.43L927,445.59M930,446.41L935,447.73M938,448.48L943,449.73M946,450.48L951,451.73M954,452.48L959,453.79M962,454.61L967,455.89M970,456.61L975,457.61M978,458.09L983,458.78M986,459.12L991,459.40M994,459.40L999,459.40M1002,459.40L1007,459.65M1010,459.95L1015,460.26M1018,460.34L1023,460.74M1026,461.16L1031,461.78M1034,462.12L1039,462.40M1042,462.40L1047,462.90M1050,463.50L1055,464.62M1058,465.38L1063,466.69M1066,467.51L1071,468.79M1074,469.51L1079,470.73M1082,471.48L1087,472.76M1090,473.54L1095,474.82M1098,475.57L1103,476.79M1106,477.51L1111,478.54M1114,479.06L1119,479.75M1122,480.05L1127,480.30M1130,480.30L1135,480.30M1138,480.30L1143,480.30M1146,480.30L1151,479.93M1154,479.48L1159,478.60M1162,478.00L1167,477.16M1170,476.74L1173,476.33" fill="none" stroke="#ff0000" stroke-width="1"/>
</g>
<g shape-rendering="crispEdges">
<rect x="1197" y="435" width="2" height="1" fill="#000"/>
<rect x="1197" y="472" width="2" height="1" fill="#000"/>
<rect x="1197" y="547" width="2" height="1" fill="#000"/>
</g>
<text transform="matrix(0.915 0 0 1 1201 444)" font-size="9.9" fill="#000" filter="url(#tc)">1.2924</text>
<text transform="matrix(0.915 0 0 1 1200.5 476)" font-size="9.9" fill="#000" filter="url(#tc)">0.00</text>
<text transform="matrix(0.915 0 0 1 1200 546)" font-size="9.9" fill="#000" filter="url(#tc)">-2.6386</text>
<text transform="matrix(0.955 0 0 1 6.8 563)" font-size="9.9" fill="#000" filter="url(#tc)">RSI(14) 52.6765</text>
<g shape-rendering="crispEdges">
<line x1="5" y1="586.5" x2="1196" y2="586.5" stroke="#c0c0c0" stroke-width="1" stroke-dasharray="3 3"/>
<line x1="5" y1="633.5" x2="1196" y2="633.5" stroke="#c0c0c0" stroke-width="1" stroke-dasharray="3 3"/>
</g>
<g clip-path="url(#cr)" shape-rendering="crispEdges">
<polyline points="4.5,619.2 12.5,616.8 20.5,624.9 28.5,621.3 36.5,628.1 44.5,622.5 52.5,612.8 60.5,612.3 68.5,606.5 76.5,606.5 84.5,605.2 92.5,608.4 100.5,609.5 108.5,612.3 116.5,618.1 124.5,613.6 132.5,616.5 140.5,624.1 148.5,628.1 156.5,631.3 164.5,633.4 172.5,633.4 180.5,627.8 188.5,622.5 196.5,614.9 204.5,615.5 212.5,606.3 220.5,607.4 228.5,633.3 236.5,633.4 244.5,633.4 252.5,633.4 260.5,633.4 268.5,626.5 276.5,627.3 284.5,630.5 292.5,613.3 300.5,614.4 308.5,616.5 316.5,617.6 324.5,622 332.5,611.2 340.5,595.8 348.5,592.3 356.5,595.5 364.5,595.5 372.5,591.3 380.5,599.4 388.5,598.4 396.5,598.4 404.5,609.2 412.5,608.4 420.5,608.4 428.5,610.4 436.5,610.4 444.5,624.9 452.5,633 460.5,636.5 468.5,648.3 476.5,648.3 484.5,628.9 492.5,627.3 500.5,627.3 508.5,626.5 516.5,630 524.5,634.2 532.5,629.7 540.5,626.5 548.5,633.3 556.5,634.6 564.5,638.1 572.5,636.2 580.5,632.1 588.5,625.7 596.5,622 604.5,620.4 612.5,625.2 620.5,632.1 628.5,630.5 636.5,625.7 644.5,625.7 652.5,628.4 660.5,624.1 668.5,620.8 676.5,618.7 684.5,616 692.5,611.6 700.5,610.4 708.5,615.2 716.5,620.4 724.5,619.2 732.5,612.8 740.5,611.2 748.5,610 756.5,605.5 764.5,607.3 772.5,599.4 780.5,598.4 788.5,597.4 796.5,593.4 804.5,591 812.5,586.1 820.5,596.1 828.5,594.5 836.5,594.5 844.5,595.5 852.5,592.6 860.5,591.3 868.5,591.3 876.5,592.6 884.5,589.4 892.5,598.2 900.5,603.1 908.5,603.6 916.5,613.3 924.5,612.3 932.5,610 940.5,605.8 948.5,602.3 956.5,607.9 964.5,602.3 972.5,602.3 980.5,598.4 988.5,597.4 996.5,599.4 1004.5,609.1 1012.5,608.4 1020.5,611.6 1028.5,615.2 1036.5,616.5 1044.5,606.3 1052.5,612.8 1060.5,624.6 1068.5,618.4 1076.5,619.2 1084.5,621.7 1092.5,617.6 1100.5,619.2 1108.5,618.2 1116.5,606.6 1124.5,607.4 1132.5,607.4 1140.5,607.4 1148.5,609.2 1156.5,599.4 1164.5,605.2 1172.5,606.3" fill="none" stroke="#1e90ff" stroke-width="1"/>
</g>
<g shape-rendering="crispEdges">
<rect x="1197" y="551" width="2" height="1" fill="#000"/>
<rect x="1197" y="586" width="2" height="1" fill="#000"/>
<rect x="1197" y="633" width="2" height="1" fill="#000"/>
<rect x="1197" y="667" width="2" height="1" fill="#000"/>
</g>
<text transform="matrix(0.915 0 0 1 1201 561)" font-size="9.9" fill="#000" filter="url(#tc)">100</text>
<text transform="matrix(0.915 0 0 1 1199.5 590)" font-size="9.9" fill="#000" filter="url(#tc)">70</text>
<text transform="matrix(0.915 0 0 1 1199.5 637)" font-size="9.9" fill="#000" filter="url(#tc)">30</text>
<text transform="matrix(0.915 0 0 1 1200.5 665)" font-size="9.9" fill="#000" filter="url(#tc)">0</text>
<g shape-rendering="crispEdges">
<rect x="4" y="669" width="1" height="3" fill="#000"/>
<rect x="68" y="669" width="1" height="3" fill="#000"/>
<rect x="132" y="669" width="1" height="3" fill="#000"/>
<rect x="196" y="669" width="1" height="3" fill="#000"/>
<rect x="260" y="669" width="1" height="3" fill="#000"/>
<rect x="324" y="669" width="1" height="3" fill="#000"/>
<rect x="388" y="669" width="1" height="3" fill="#000"/>
<rect x="452" y="669" width="1" height="3" fill="#000"/>
<rect x="516" y="669" width="1" height="3" fill="#000"/>
<rect x="580" y="669" width="1" height="3" fill="#000"/>
<rect x="644" y="669" width="1" height="3" fill="#000"/>
<rect x="708" y="669" width="1" height="3" fill="#000"/>
<rect x="772" y="669" width="1" height="3" fill="#000"/>
<rect x="836" y="669" width="1" height="3" fill="#000"/>
<rect x="900" y="669" width="1" height="3" fill="#000"/>
<rect x="964" y="669" width="1" height="3" fill="#000"/>
<rect x="1028" y="669" width="1" height="3" fill="#000"/>
<rect x="1092" y="669" width="1" height="3" fill="#000"/>
<rect x="1156" y="669" width="1" height="3" fill="#000"/>
</g>
<text transform="matrix(0.955 0 0 1 3.7 681)" font-size="9.9" fill="#000" filter="url(#tc)">12 Nov 2021</text>
<text transform="matrix(0.955 0 0 1 67.7 681)" font-size="9.9" fill="#000" filter="url(#tc)">16 Nov 01:00</text>
<text transform="matrix(0.955 0 0 1 131.7 681)" font-size="9.9" fill="#000" filter="url(#tc)">17 Nov 09:00</text>
<text transform="matrix(0.955 0 0 1 195.7 681)" font-size="9.9" fill="#000" filter="url(#tc)">18 Nov 17:00</text>
<text transform="matrix(0.955 0 0 1 259.7 681)" font-size="9.9" fill="#000" filter="url(#tc)">21 Nov 23:00</text>
<text transform="matrix(0.955 0 0 1 323.7 681)" font-size="9.9" fill="#000" filter="url(#tc)">23 Nov 05:00</text>
<text transform="matrix(0.955 0 0 1 387.7 681)" font-size="9.9" fill="#000" filter="url(#tc)">24 Nov 13:00</text>
<text transform="matrix(0.955 0 0 1 451.7 681)" font-size="9.9" fill="#000" filter="url(#tc)">26 Nov 05:00</text>
<text transform="matrix(0.955 0 0 1 515.7 681)" font-size="9.9" fill="#000" filter="url(#tc)">29 Nov 12:00</text>
<text transform="matrix(0.955 0 0 1 579.7 681)" font-size="9.9" fill="#000" filter="url(#tc)">30 Nov 21:00</text>
<text transform="matrix(0.955 0 0 1 643.7 681)" font-size="9.9" fill="#000" filter="url(#tc)">2 Dec 05:00</text>
<text transform="matrix(0.955 0 0 1 707.7 681)" font-size="9.9" fill="#000" filter="url(#tc)">3 Dec 13:00</text>
<text transform="matrix(0.955 0 0 1 771.7 681)" font-size="9.9" fill="#000" filter="url(#tc)">6 Dec 16:00</text>
<text transform="matrix(0.955 0 0 1 835.7 681)" font-size="9.9" fill="#000" filter="url(#tc)">8 Dec 01:00</text>
<text transform="matrix(0.955 0 0 1 899.7 681)" font-size="9.9" fill="#000" filter="url(#tc)">9 Dec 09:00</text>
<text transform="matrix(0.955 0 0 1 963.7 681)" font-size="9.9" fill="#000" filter="url(#tc)">10 Dec 17:00</text>
<text transform="matrix(0.955 0 0 1 1027.7 681)" font-size="9.9" fill="#000" filter="url(#tc)">13 Dec 20:00</text>
<text transform="matrix(0.955 0 0 1 1091.7 681)" font-size="9.9" fill="#000" filter="url(#tc)">15 Dec 05:00</text>
<text transform="matrix(0.955 0 0 1 1155.7 681)" font-size="9.9" fill="#000" filter="url(#tc)">16 Dec 13:00</text>
</svg></body></html>
